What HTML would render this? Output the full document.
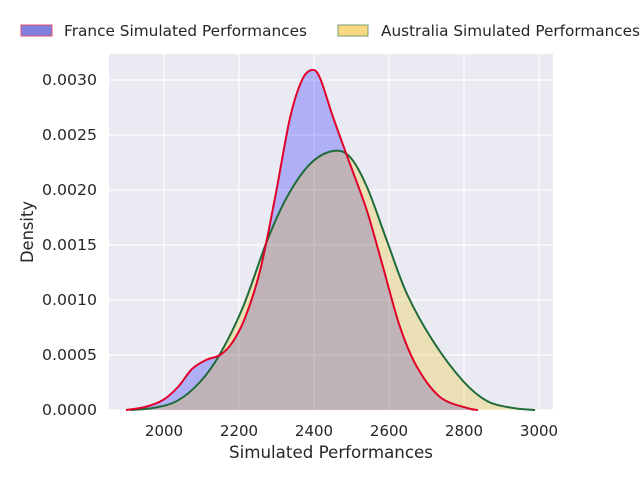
<!DOCTYPE html>
<html><head><meta charset="utf-8"><style>
body{margin:0;background:#fff;}
svg text{font-family:"DejaVu Sans","Liberation Sans",sans-serif;fill:#262626;}
</style></head><body>
<svg id="s" width="640" height="480" xmlns="http://www.w3.org/2000/svg">
<rect x="109" y="54" width="444" height="356" fill="#eaeaf2"/>
<g stroke="#fff" stroke-width="1.2">
<line x1="164" y1="54" x2="164" y2="410"/><line x1="239" y1="54" x2="239" y2="410"/>
<line x1="314" y1="54" x2="314" y2="410"/><line x1="389" y1="54" x2="389" y2="410"/>
<line x1="464" y1="54" x2="464" y2="410"/><line x1="539" y1="54" x2="539" y2="410"/>
<line x1="109" y1="410" x2="553" y2="410"/><line x1="109" y1="355" x2="553" y2="355"/>
<line x1="109" y1="300" x2="553" y2="300"/><line x1="109" y1="245" x2="553" y2="245"/>
<line x1="109" y1="190" x2="553" y2="190"/><line x1="109" y1="135" x2="553" y2="135"/>
<line x1="109" y1="80" x2="553" y2="80"/>
</g>
<path id="ff" fill="#0000ff" fill-opacity="0.25"/>
<path id="af" fill="#f0c000" fill-opacity="0.25"/>
<path id="al" fill="none" stroke="#1f6b3a" stroke-width="2"/>
<path id="fl" fill="none" stroke="#e0002a" stroke-width="2"/>
<g font-size="15" text-anchor="end">
<text x="97" y="415" textLength="55" lengthAdjust="spacingAndGlyphs">0.0000</text><text x="97" y="360" textLength="55" lengthAdjust="spacingAndGlyphs">0.0005</text>
<text x="97" y="305" textLength="55" lengthAdjust="spacingAndGlyphs">0.0010</text><text x="97" y="250" textLength="55" lengthAdjust="spacingAndGlyphs">0.0015</text>
<text x="97" y="195" textLength="55" lengthAdjust="spacingAndGlyphs">0.0020</text><text x="97" y="140" textLength="55" lengthAdjust="spacingAndGlyphs">0.0025</text>
<text x="97" y="85" textLength="55" lengthAdjust="spacingAndGlyphs">0.0030</text>
</g>
<g font-size="15" text-anchor="middle">
<text x="164" y="436">2000</text><text x="239" y="436">2200</text>
<text x="314" y="436">2400</text><text x="389" y="436">2600</text>
<text x="464" y="436">2800</text><text x="539" y="436">3000</text>
</g>
<text x="331" y="458" font-size="16.5" text-anchor="middle" textLength="204" lengthAdjust="spacingAndGlyphs">Simulated Performances</text>
<text x="33" y="232" font-size="16.5" text-anchor="middle" transform="rotate(-90 33 232)" textLength="62" lengthAdjust="spacingAndGlyphs">Density</text>
<rect x="21" y="25" width="31" height="11" fill="#8080e0" stroke="#e05070" stroke-width="1"/>
<text x="64" y="36" font-size="15" textLength="243" lengthAdjust="spacingAndGlyphs">France Simulated Performances</text>
<rect x="338" y="25" width="30" height="11" fill="#f8d880" stroke="#70a070" stroke-width="1"/>
<text x="381" y="36" font-size="15" textLength="259" lengthAdjust="spacingAndGlyphs">Australia Simulated Performances</text>
</svg>
<script>
function cr(p){var d="M"+p[0][0]+","+p[0][1];for(var i=0;i<p.length-1;i++){var p0=p[i-1]||p[i],p1=p[i],p2=p[i+1],p3=p[i+2]||p[i+1];
d+=" C"+(p1[0]+(p2[0]-p0[0])/6)+","+(p1[1]+(p2[1]-p0[1])/6)+" "+(p2[0]-(p3[0]-p1[0])/6)+","+(p2[1]-(p3[1]-p1[1])/6)+" "+p2[0]+","+p2[1];}return d;}
var F=[[126,410],[145,407],[163,400],[178,387],[192,369],[206,360],[220,355],[232,343],[245,318],[260,271],[275,198],[290,118],[302,80],[312,70],[320,78],[333,117],[350,164],[367,211],[383,267],[400,327],[417,367],[440,397],[467,408],[478,410]];
var A=[[130,410],[153,408],[177,401],[200,382],[220,354],[243,307],[267,241],[287,197],[310,164],[333,151],[350,157],[367,187],[387,241],[407,294],[433,341],[463,381],[487,401],[513,408],[535,410]];
var f=cr(F),a=cr(A);
document.getElementById("fl").setAttribute("d",f);document.getElementById("al").setAttribute("d",a);
document.getElementById("ff").setAttribute("d",f+" L478,410 L126,410 Z");document.getElementById("af").setAttribute("d",a+" L535,410 L130,410 Z");
</script>
</body></html>
